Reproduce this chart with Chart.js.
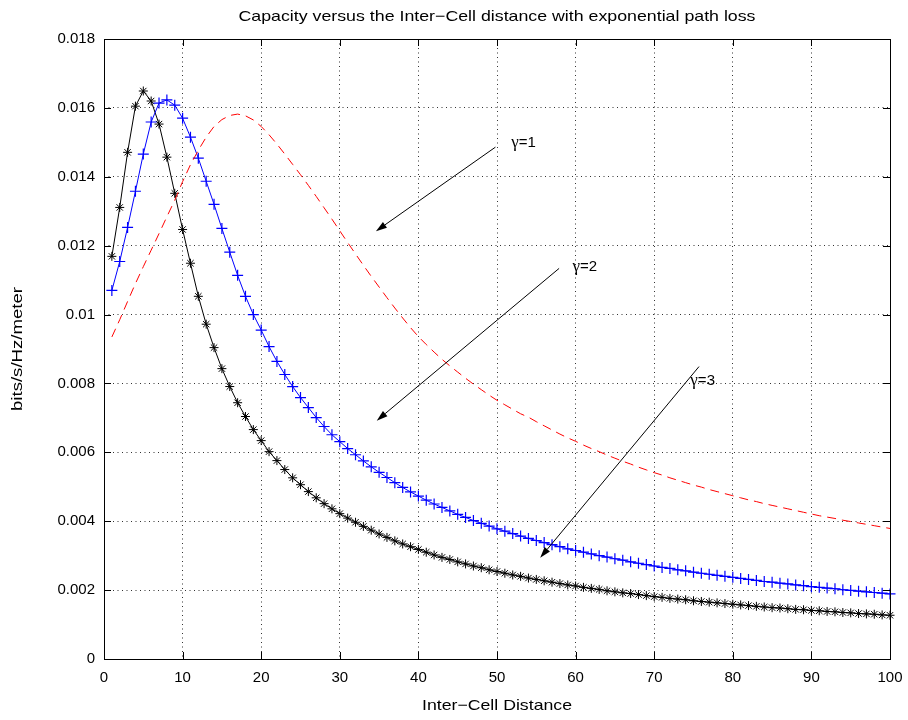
<!DOCTYPE html>
<html>
<head>
<meta charset="utf-8">
<script src="https://cdn.jsdelivr.net/npm/chart.js@4.4.1/dist/chart.umd.min.js"></script>
<style>
  html, body { margin: 0; padding: 0; background: #fff; }
  #wrap { width: 908px; height: 720px; }
</style>
</head>
<body>
<div id="wrap"><canvas id="capChart" width="908" height="720"></canvas></div>
<script>
// Inter-cell distance (x)
const distance = [
  1, 2, 3, 4, 5, 6, 7, 8, 9, 10, 11, 12, 13, 14, 15, 16, 17, 18, 19, 20,
  21, 22, 23, 24, 25, 26, 27, 28, 29, 30, 31, 32, 33, 34, 35, 36, 37, 38, 39, 40,
  41, 42, 43, 44, 45, 46, 47, 48, 49, 50, 51, 52, 53, 54, 55, 56, 57, 58, 59, 60,
  61, 62, 63, 64, 65, 66, 67, 68, 69, 70, 71, 72, 73, 74, 75, 76, 77, 78, 79, 80,
  81, 82, 83, 84, 85, 86, 87, 88, 89, 90, 91, 92, 93, 94, 95, 96, 97, 98, 99, 100
];

// gamma = 1 (red dashed)
const gamma1 = [
  0.00935, 0.00985, 0.01038, 0.0109, 0.01139, 0.01187, 0.01235, 0.01284, 0.01332, 0.01386,
  0.01435, 0.01477, 0.01515, 0.01546, 0.01566, 0.01578, 0.01582, 0.01577, 0.01565, 0.01546,
  0.01522, 0.01495, 0.01466, 0.01436, 0.01406, 0.01375, 0.01343, 0.0131, 0.01277, 0.01243,
  0.01209, 0.01176, 0.01143, 0.01111, 0.0108, 0.01049, 0.01019, 0.0099, 0.00962, 0.00936,
  0.00913, 0.00891, 0.0087, 0.00851, 0.00833, 0.00815, 0.00798, 0.00782, 0.00766, 0.00751,
  0.00738, 0.00725, 0.00712, 0.00702, 0.00689, 0.00677, 0.00665, 0.00653, 0.00642, 0.00632,
  0.00621, 0.00611, 0.00602, 0.00592, 0.00583, 0.00574, 0.00566, 0.00557, 0.00549, 0.00541,
  0.00534, 0.00526, 0.00519, 0.00512, 0.00505, 0.00499, 0.00492, 0.00486, 0.0048, 0.00474,
  0.00468, 0.00462, 0.00457, 0.00451, 0.00446, 0.00441, 0.00436, 0.00431, 0.00426, 0.00421,
  0.00416, 0.00412, 0.00408, 0.00403, 0.00399, 0.00395, 0.00391, 0.00387, 0.00383, 0.00379
];

// gamma = 2 (blue, + markers)
const gamma2 = [
  0.0107, 0.01154, 0.01253, 0.01358, 0.01466, 0.01559, 0.01614, 0.01623, 0.01608, 0.0157,
  0.01515, 0.01454, 0.01387, 0.0132, 0.0125, 0.01181, 0.01114, 0.01053, 0.01, 0.00955,
  0.00907, 0.00864, 0.00826, 0.00791, 0.00759, 0.0073, 0.00701, 0.00675, 0.00651, 0.00631,
  0.00611, 0.00593, 0.00575, 0.00558, 0.00542, 0.00527, 0.00512, 0.00498, 0.00485, 0.00473,
  0.00461, 0.0045, 0.0044, 0.0043, 0.0042, 0.00411, 0.00402, 0.00394, 0.00386, 0.00378,
  0.00371, 0.00364, 0.00357, 0.0035, 0.00344, 0.00338, 0.00332, 0.00326, 0.0032, 0.00315,
  0.0031, 0.00305, 0.003, 0.00296, 0.00291, 0.00287, 0.00282, 0.00278, 0.00274, 0.0027,
  0.00266, 0.00263, 0.00259, 0.00256, 0.00252, 0.00249, 0.00246, 0.00243, 0.0024, 0.00237,
  0.00234, 0.00231, 0.00228, 0.00225, 0.00223, 0.0022, 0.00218, 0.00215, 0.00213, 0.0021,
  0.00208, 0.00206, 0.00204, 0.00201, 0.00199, 0.00197, 0.00195, 0.00193, 0.00191, 0.00189
];

// gamma = 3 (black, * markers)
const gamma3 = [
  0.01169, 0.01311, 0.01471, 0.01605, 0.01649, 0.0162, 0.01553, 0.01457, 0.01352, 0.01247,
  0.01149, 0.01053, 0.00972, 0.00904, 0.00843, 0.00791, 0.00744, 0.00704, 0.00666, 0.00634,
  0.00602, 0.00576, 0.0055, 0.00526, 0.00506, 0.00486, 0.00468, 0.00451, 0.00436, 0.00422,
  0.00409, 0.00397, 0.00385, 0.00374, 0.00363, 0.00353, 0.00343, 0.00334, 0.00326, 0.00318,
  0.0031, 0.00302, 0.00295, 0.00289, 0.00282, 0.00276, 0.0027, 0.00265, 0.00259, 0.00254,
  0.00249, 0.00244, 0.0024, 0.00235, 0.00231, 0.00227, 0.00223, 0.00219, 0.00215, 0.00212,
  0.00208, 0.00205, 0.00202, 0.00198, 0.00195, 0.00192, 0.0019, 0.00187, 0.00184, 0.00181,
  0.00179, 0.00176, 0.00174, 0.00172, 0.00169, 0.00167, 0.00165, 0.00163, 0.00161, 0.00159,
  0.00157, 0.00155, 0.00153, 0.00151, 0.00149, 0.00148, 0.00146, 0.00144, 0.00143, 0.00141,
  0.0014, 0.00138, 0.00137, 0.00135, 0.00134, 0.00132, 0.00131, 0.0013, 0.00128, 0.00127
];

const xTicks = [0, 10, 20, 30, 40, 50, 60, 70, 80, 90, 100];
const yTicks = [0, 0.002, 0.004, 0.006, 0.008, 0.01, 0.012, 0.014, 0.016, 0.018];
const yTickLabels = ['0', '0.002', '0.004', '0.006', '0.008', '0.01', '0.012', '0.014', '0.016', '0.018'];

// annotation arrows (data units)
const arrowLabels = ['1', '2', '3'];
const arrowFrom = [[49.8, 0.01486], [57.9, 0.01134], [75.7, 0.00849]];
const arrowTo = [[34.6, 0.01242], [34.7, 0.00692], [55.5, 0.00294]];
const labelAt = [[51.8, 0.0150], [59.6, 0.0114], [74.6, 0.0081]];

const chartTitle = 'Capacity versus the Inter\u2212Cell distance with exponential path loss';
const xTitle = 'Inter\u2212Cell Distance';
const yTitle = 'bits/s/Hz/meter';

const FONT = '"Liberation Sans", Arial, Helvetica, sans-serif';

const toPoints = arr => arr.map((v, i) => ({ x: distance[i], y: v }));

// text stretched to a given width (MATLAB export renders wide)
function wideText(ctx, text, cx, cy, width) {
    const w = ctx.measureText(text).width;
    ctx.save();
    ctx.translate(cx, cy);
    ctx.scale(width / w, 1);
    ctx.textAlign = 'center';
    ctx.fillText(text, 0, 0);
    ctx.restore();
}

// box, inward ticks, titles and arrows in MATLAB style
const matlabAxes = {
    id: 'matlabAxes',
    afterDraw(chart) {
        const { ctx, chartArea: a, scales: { x, y } } = chart;
        ctx.save();

        // box
        ctx.strokeStyle = '#000';
        ctx.lineWidth = 1;
        ctx.strokeRect(Math.round(a.left) + 0.5, Math.round(a.top) + 0.5,
            Math.round(a.right - a.left), Math.round(a.bottom - a.top));

        // inward ticks
        const tl = 7;
        ctx.beginPath();
        xTicks.forEach(v => {
            const px = Math.round(x.getPixelForValue(v)) + 0.5;
            ctx.moveTo(px, a.bottom); ctx.lineTo(px, a.bottom - tl);
            ctx.moveTo(px, a.top); ctx.lineTo(px, a.top + tl);
        });
        yTicks.forEach(v => {
            const py = Math.round(y.getPixelForValue(v)) + 0.5;
            ctx.moveTo(a.left, py); ctx.lineTo(a.left + tl, py);
            ctx.moveTo(a.right, py); ctx.lineTo(a.right - tl, py);
        });
        ctx.stroke();

        // titles
        ctx.fillStyle = '#000';
        ctx.font = '15px ' + FONT;
        ctx.textBaseline = 'middle';
        const cx = (a.left + a.right) / 2;
        wideText(ctx, chartTitle, cx, 17, 517);
        wideText(ctx, xTitle, cx, 706, 150);
        ctx.save();
        ctx.translate(18, (a.top + a.bottom) / 2);
        ctx.rotate(-Math.PI / 2);
        wideText(ctx, yTitle, 0, 0, 124);
        ctx.restore();

        // arrows
        arrowFrom.forEach((p, i) => {
            const x0 = x.getPixelForValue(p[0]), y0 = y.getPixelForValue(p[1]);
            const x1 = x.getPixelForValue(arrowTo[i][0]), y1 = y.getPixelForValue(arrowTo[i][1]);
            const ang = Math.atan2(y1 - y0, x1 - x0);
            const hl = 11, hw = 3.5;
            ctx.beginPath();
            ctx.moveTo(x0, y0);
            ctx.lineTo(x1 - hl * Math.cos(ang), y1 - hl * Math.sin(ang));
            ctx.stroke();
            ctx.beginPath();
            ctx.moveTo(x1, y1);
            ctx.lineTo(x1 - hl * Math.cos(ang) + hw * Math.sin(ang), y1 - hl * Math.sin(ang) - hw * Math.cos(ang));
            ctx.lineTo(x1 - hl * Math.cos(ang) - hw * Math.sin(ang), y1 - hl * Math.sin(ang) + hw * Math.cos(ang));
            ctx.closePath();
            ctx.fill();

            // label: gamma=n, sharing one baseline
            const lx = x.getPixelForValue(labelAt[i][0]);
            const ly = y.getPixelForValue(labelAt[i][1]) + 5;
            ctx.textAlign = 'left';
            ctx.textBaseline = 'alphabetic';
            ctx.font = '17px "Liberation Serif", "DejaVu Serif", serif';
            ctx.fillText('\u03b3', lx, ly);
            const gw = ctx.measureText('\u03b3').width;
            ctx.font = '15px ' + FONT;
            ctx.fillText('=' + arrowLabels[i], lx + gw, ly);
        });

        ctx.restore();
    }
};

const ctx = document.getElementById('capChart').getContext('2d');
new Chart(ctx, {
    type: 'line',
    data: {
        datasets: [
            {
                label: 'gamma=1',
                data: toPoints(gamma1),
                borderColor: '#ff0000',
                borderWidth: 1,
                borderDash: [9, 6],
                pointRadius: 0,
                fill: false,
                tension: 0
            },
            {
                label: 'gamma=2',
                data: toPoints(gamma2),
                borderColor: '#0000ff',
                borderWidth: 1,
                pointStyle: 'cross',
                pointRadius: 5.5,
                pointBorderColor: '#0000ff',
                pointBorderWidth: 1.2,
                fill: false,
                tension: 0,
                clip: false
            },
            {
                label: 'gamma=3',
                data: toPoints(gamma3),
                borderColor: '#000000',
                borderWidth: 1,
                pointStyle: 'star',
                pointRadius: 4.5,
                pointBorderColor: '#000000',
                pointBorderWidth: 1,
                fill: false,
                tension: 0,
                clip: false
            }
        ]
    },
    options: {
        responsive: false,
        animation: false,
        events: [],
        layout: { padding: { top: 39, right: 18, left: 0, bottom: 0 } },
        plugins: {
            legend: { display: false },
            title: { display: false },
            tooltip: { enabled: false }
        },
        scales: {
            x: {
                type: 'linear',
                min: 0,
                max: 100,
                afterFit: s => { s.height = 61; s.paddingRight = 0; s.paddingLeft = 0; },
                afterBuildTicks: s => { s.ticks = xTicks.map(v => ({ value: v })); },
                grid: { color: '#333', lineWidth: 1, drawTicks: false },
                border: { display: false, dash: [1, 3.5] },
                ticks: {
                    color: '#000',
                    padding: 10,
                    font: { family: FONT, size: 15 },
                    maxRotation: 0,
                    callback: v => String(v)
                }
            },
            y: {
                type: 'linear',
                min: 0,
                max: 0.018,
                afterFit: s => { s.width = 104; s.paddingTop = 0; s.paddingBottom = 0; },
                afterBuildTicks: s => { s.ticks = yTicks.map(v => ({ value: v })); },
                grid: { color: '#333', lineWidth: 1, drawTicks: false },
                border: { display: false, dash: [1, 3.5] },
                ticks: {
                    color: '#000',
                    padding: 9,
                    font: { family: FONT, size: 15 },
                    callback: (v, i) => yTickLabels[i]
                }
            }
        }
    },
    plugins: [matlabAxes]
});
</script>
</body>
</html>
